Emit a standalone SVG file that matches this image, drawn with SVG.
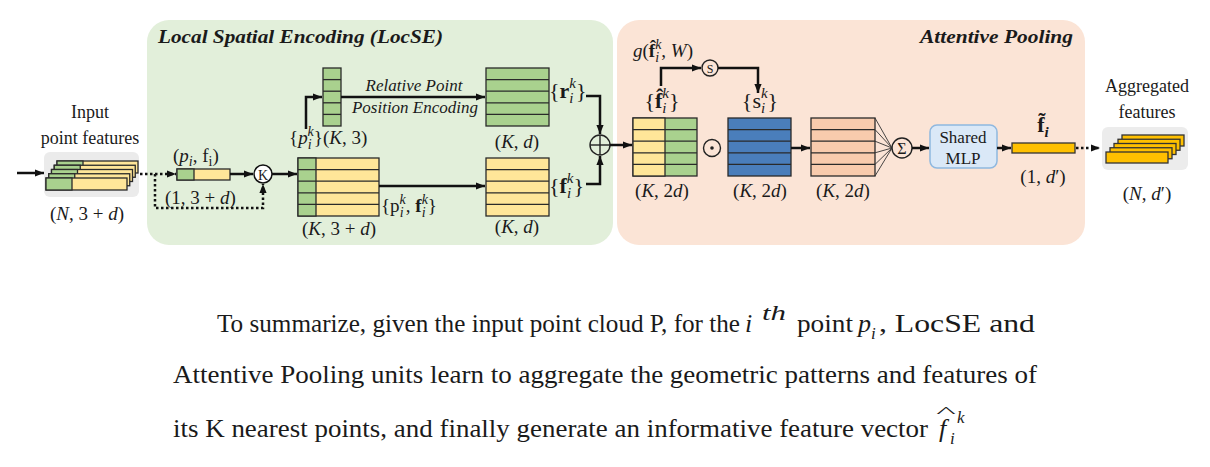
<svg xmlns="http://www.w3.org/2000/svg" width="1210" height="467" viewBox="0 0 1210 467">
<defs>
<style>
text{font-family:"Liberation Serif","Times New Roman",serif;fill:#1a1a1a}
.m{font-size:19px}
.lb{font-size:18px}
.it{font-style:italic}
.b{font-weight:bold}
.s{font-size:14px}
.ttl{font-size:19px;font-weight:bold;font-style:italic}
.body{font-size:26px}
.cell{stroke:#2a2a2a;stroke-width:1.3}
.g{fill:#a9d18e}
.y{fill:#ffe699}
.bl{fill:#4a7ebb}
.sa{fill:#f8cbad}
.gold{fill:#ffc000;stroke:#333;stroke-width:1.3}
.row{stroke:#2a2a2a;stroke-width:1.3}
.con{fill:none;stroke:#111;stroke-width:2.5}
.dot{fill:none;stroke:#111;stroke-width:2.5;stroke-dasharray:2.5 2.5}
.fan{stroke:#333;stroke-width:0.9}
.op{fill:none;stroke:#222;stroke-width:1.4}
</style>
<marker id="ah" viewBox="0 0 10 10" refX="10" refY="5" markerWidth="9" markerHeight="9" markerUnits="userSpaceOnUse" orient="auto"><path d="M0,1 L10,5 L0,9 z" fill="#111"/></marker>
</defs>
<rect width="1210" height="467" fill="#ffffff"/>

<g id="locse-panel">
<rect x="147" y="20" width="466" height="225" rx="22" fill="#e2efda"/>
<text class="ttl" x="158" y="43" textLength="285" lengthAdjust="spacingAndGlyphs">Local Spatial Encoding (LocSE)</text>
</g>
<g id="attentive-panel">
<rect x="617" y="20" width="468" height="225" rx="22" fill="#fbe4d6"/>
<text class="ttl" x="920" y="43" textLength="153" lengthAdjust="spacingAndGlyphs">Attentive Pooling</text>
</g>

<g id="input-features">
<text class="lb" x="90" y="118" text-anchor="middle">Input</text>
<text class="lb" x="90" y="144" text-anchor="middle">point features</text>
<rect x="44" y="152" width="95" height="45" rx="6" fill="#ebebeb"/>
<g class="cell">
<rect x="57" y="161" width="81" height="12" class="y"/><rect x="57" y="161" width="26" height="12" class="g"/>
<rect x="54.25" y="165.25" width="81" height="12" class="y"/><rect x="54.25" y="165.25" width="26" height="12" class="g"/>
<rect x="51.5" y="169.5" width="81" height="12" class="y"/><rect x="51.5" y="169.5" width="26" height="12" class="g"/>
<rect x="48.75" y="173.75" width="81" height="12" class="y"/><rect x="48.75" y="173.75" width="26" height="12" class="g"/>
<rect x="46" y="178" width="81" height="12" class="y"/><rect x="46" y="178" width="26" height="12" class="g"/>
</g>
<text class="m" x="87" y="220" text-anchor="middle">(<tspan class="it">N</tspan>, 3 + <tspan class="it">d</tspan>)</text>
</g>

<g id="point-pi">
<text class="m" x="173" y="162">(<tspan class="it">p</tspan><tspan class="it s" dy="4">i</tspan><tspan dy="-4">, f</tspan><tspan class="s" dy="4">i</tspan><tspan dy="-4">)</tspan></text>
<rect x="177" y="169" width="53" height="11" class="cell y"/>
<rect x="177" y="169" width="17" height="11" class="cell g"/>
<text class="m" x="165" y="204">(1, 3 + <tspan class="it">d</tspan>)</text>
</g>

<g id="knn">
<circle cx="263" cy="174" r="9" fill="#ffffff" stroke="#111" stroke-width="1.5"/>
<text x="263" y="179.5" text-anchor="middle" font-size="14">K</text>
</g>

<g id="neighbour-block">
<rect x="298" y="158" width="81" height="58" class="cell y"/>
<rect x="298" y="158" width="18" height="58" class="cell g"/>
<g class="row"><line x1="298" y1="169.6" x2="379" y2="169.6"/><line x1="298" y1="181.2" x2="379" y2="181.2"/><line x1="298" y1="192.8" x2="379" y2="192.8"/><line x1="298" y1="204.4" x2="379" y2="204.4"/></g>
<text class="m" x="339" y="235" text-anchor="middle">(<tspan class="it">K</tspan>, 3 + <tspan class="it">d</tspan>)</text>
<text class="m" x="381" y="212">{p<tspan class="it s" dy="5">i</tspan><tspan class="it s" dx="-3.9" dy="-13">k</tspan><tspan dy="8">, </tspan><tspan class="b">f</tspan><tspan class="it s" dy="5">i</tspan><tspan class="it s" dx="-3.9" dy="-13">k</tspan><tspan dy="8">}</tspan></text>
</g>

<g id="relative-pos">
<rect x="323" y="68" width="18" height="58" class="cell g"/>
<g class="row"><line x1="323" y1="79.6" x2="341" y2="79.6"/><line x1="323" y1="91.2" x2="341" y2="91.2"/><line x1="323" y1="102.8" x2="341" y2="102.8"/><line x1="323" y1="114.4" x2="341" y2="114.4"/></g>
<text class="m" x="289" y="144">{<tspan class="it">p</tspan><tspan class="it s" dy="5">i</tspan><tspan class="it s" dx="-3.9" dy="-13">k</tspan><tspan dy="8">}(</tspan><tspan class="it">K</tspan>, 3)</text>
</g>

<g id="encoding-label">
<text class="it" font-size="17" x="414" y="91" text-anchor="middle">Relative Point</text>
<text class="it" font-size="17" x="415" y="113" text-anchor="middle">Position Encoding</text>
</g>

<g id="r-block">
<rect x="486" y="68" width="63" height="58" class="cell g"/>
<g class="row"><line x1="486" y1="79.6" x2="549" y2="79.6"/><line x1="486" y1="91.2" x2="549" y2="91.2"/><line x1="486" y1="102.8" x2="549" y2="102.8"/><line x1="486" y1="114.4" x2="549" y2="114.4"/></g>
<text font-size="22" x="549" y="98">{<tspan class="b">r</tspan><tspan class="it" font-size="15" dy="5">i</tspan><tspan class="it" font-size="15" dx="-4.2" dy="-15">k</tspan><tspan dy="10">}</tspan></text>
<text class="m" x="517" y="148" text-anchor="middle">(<tspan class="it">K</tspan>, <tspan class="it">d</tspan>)</text>
</g>

<g id="f-block">
<rect x="486" y="158" width="63" height="58" class="cell y"/>
<g class="row"><line x1="486" y1="169.6" x2="549" y2="169.6"/><line x1="486" y1="181.2" x2="549" y2="181.2"/><line x1="486" y1="192.8" x2="549" y2="192.8"/><line x1="486" y1="204.4" x2="549" y2="204.4"/></g>
<text font-size="22" x="549" y="193">{<tspan class="b">f</tspan><tspan class="it" font-size="15" dy="5">i</tspan><tspan class="it" font-size="15" dx="-4.2" dy="-15">k</tspan><tspan dy="10">}</tspan></text>
<text class="m" x="517" y="233" text-anchor="middle">(<tspan class="it">K</tspan>, <tspan class="it">d</tspan>)</text>
</g>

<g id="concat">
<circle cx="600" cy="145" r="10" class="op" fill="#ffffff"/>
<line x1="590" y1="145" x2="610" y2="145" class="op"/>
<line x1="600" y1="135" x2="600" y2="155" class="op"/>
</g>

<g id="fhat-block">
<rect x="633" y="118" width="64" height="58" class="cell g"/>
<rect x="633" y="118" width="32" height="58" class="cell y"/>
<g class="row"><line x1="633" y1="129.6" x2="697" y2="129.6"/><line x1="633" y1="141.2" x2="697" y2="141.2"/><line x1="633" y1="152.8" x2="697" y2="152.8"/><line x1="633" y1="164.4" x2="697" y2="164.4"/></g>
<text font-size="22" x="662" y="108" text-anchor="middle">{<tspan class="b">f̂</tspan><tspan class="it" font-size="15" dy="5">i</tspan><tspan class="it" font-size="15" dx="-4.2" dy="-15">k</tspan><tspan dy="10">}</tspan></text>
<text class="m" x="662" y="197" text-anchor="middle">(<tspan class="it">K</tspan>, 2<tspan class="it">d</tspan>)</text>
<text class="m" x="633" y="57"><tspan class="it">g</tspan>(<tspan class="b">f̂</tspan><tspan class="it s" dy="5">i</tspan><tspan class="it s" dx="-3.9" dy="-13">k</tspan><tspan dy="8">, </tspan><tspan class="it">W</tspan>)</text>
</g>

<g id="score-fn">
<circle cx="710" cy="68" r="8" fill="#fbe4d6" stroke="#222" stroke-width="1.4"/>
<text x="710" y="72.5" text-anchor="middle" font-size="12">S</text>
</g>

<g id="mult">
<circle cx="712" cy="148" r="8.5" class="op"/>
<circle cx="712" cy="148" r="1.8" fill="#222"/>
</g>

<g id="score-block">
<rect x="728" y="118" width="63" height="58" class="cell bl"/>
<g class="row"><line x1="728" y1="129.6" x2="791" y2="129.6"/><line x1="728" y1="141.2" x2="791" y2="141.2"/><line x1="728" y1="152.8" x2="791" y2="152.8"/><line x1="728" y1="164.4" x2="791" y2="164.4"/></g>
<text font-size="22" x="760" y="108" text-anchor="middle">{s<tspan class="it" font-size="15" dy="5">i</tspan><tspan class="it" font-size="15" dx="-4.2" dy="-15">k</tspan><tspan dy="10">}</tspan></text>
<text class="m" x="760" y="197" text-anchor="middle">(<tspan class="it">K</tspan>, 2<tspan class="it">d</tspan>)</text>
</g>

<g id="weighted-block">
<rect x="811" y="118" width="64" height="58" class="cell sa"/>
<g class="row"><line x1="811" y1="129.6" x2="875" y2="129.6"/><line x1="811" y1="141.2" x2="875" y2="141.2"/><line x1="811" y1="152.8" x2="875" y2="152.8"/><line x1="811" y1="164.4" x2="875" y2="164.4"/></g>
<text class="m" x="843" y="197" text-anchor="middle">(<tspan class="it">K</tspan>, 2<tspan class="it">d</tspan>)</text>
</g>

<g id="sum">
<circle cx="902" cy="148" r="10" class="op" fill="#fbe4d6"/>
<text x="902" y="154" text-anchor="middle" font-size="16">Σ</text>
</g>

<g id="shared-mlp">
<rect x="930" y="125" width="67" height="43" rx="7" fill="#dae8f7" stroke="#8fb8df" stroke-width="1.5"/>
<text font-size="17" x="963" y="143" text-anchor="middle">Shared</text>
<text font-size="17" x="963" y="164" text-anchor="middle">MLP</text>
</g>

<g id="f-tilde">
<rect x="1012" y="143" width="63" height="10" class="gold"/>
<text font-size="22" x="1043" y="132" text-anchor="middle"><tspan class="b">f̃</tspan><tspan class="b it" font-size="15" dy="5">i</tspan></text>
<text class="m" x="1043" y="183" text-anchor="middle">(1, <tspan class="it">d</tspan>′)</text>
</g>

<g id="aggregated">
<text class="lb" x="1147" y="92" text-anchor="middle">Aggregated</text>
<text class="lb" x="1147" y="118" text-anchor="middle">features</text>
<rect x="1102" y="127" width="86" height="43" rx="6" fill="#ececec"/>
<rect x="1122" y="135" width="62" height="11" class="gold"/>
<rect x="1118" y="139.25" width="62" height="11" class="gold"/>
<rect x="1114" y="143.5" width="62" height="11" class="gold"/>
<rect x="1110" y="147.75" width="62" height="11" class="gold"/>
<rect x="1106" y="152" width="62" height="11" class="gold"/>
<text class="m" x="1147" y="200" text-anchor="middle">(<tspan class="it">N</tspan>, <tspan class="it">d</tspan>′)</text>
</g>

<g id="connectors">
<line x1="17" y1="173" x2="44" y2="173" class="con" marker-end="url(#ah)"/>
<line x1="140" y1="174" x2="176" y2="174" class="dot" marker-end="url(#ah)"/>
<path d="M155,174 V208 H263 V184" class="dot" marker-end="url(#ah)"/>
<line x1="230" y1="174" x2="253" y2="174" class="con" marker-end="url(#ah)"/>
<line x1="272" y1="174" x2="297" y2="174" class="con" marker-end="url(#ah)"/>
<path d="M306,129 V97 H322" class="con" marker-end="url(#ah)"/>
<line x1="341" y1="97" x2="485" y2="97" class="con" marker-end="url(#ah)"/>
<line x1="379" y1="186" x2="485" y2="186" class="con" marker-end="url(#ah)"/>
<path d="M586,96 H600 V134" class="con" marker-end="url(#ah)"/>
<path d="M586,184 H600 V156" class="con" marker-end="url(#ah)"/>
<line x1="610" y1="145" x2="632" y2="145" class="con" marker-end="url(#ah)"/>
<path d="M661,86 V68 H701" class="con" marker-end="url(#ah)"/>
<path d="M718,68 H758 V93" class="con" marker-end="url(#ah)"/>
<line x1="791" y1="148" x2="810" y2="148" class="con" marker-end="url(#ah)"/>
<g class="fan">
<line x1="875" y1="118" x2="892" y2="148"/><line x1="875" y1="129.6" x2="892" y2="148"/><line x1="875" y1="141.2" x2="892" y2="148"/><line x1="875" y1="152.8" x2="892" y2="148"/><line x1="875" y1="164.4" x2="892" y2="148"/><line x1="875" y1="176" x2="892" y2="148"/>
</g>
<line x1="912" y1="148" x2="929" y2="148" class="con" marker-end="url(#ah)"/>
<line x1="997" y1="148" x2="1011" y2="148" class="con" marker-end="url(#ah)"/>
<line x1="1076" y1="148" x2="1100" y2="148" class="dot" marker-end="url(#ah)"/>
</g>

<g id="summary-text">
<text class="body" x="217" y="332" textLength="523" lengthAdjust="spacingAndGlyphs">To summarize, given  the input point cloud P, for the</text>
<text class="body it" x="745" y="332">i</text>
<text class="it" font-size="20" x="762" y="320" textLength="24" lengthAdjust="spacingAndGlyphs">th</text>
<text class="body" x="797" y="332" textLength="56" lengthAdjust="spacingAndGlyphs">point</text>
<text class="body it" x="858" y="332">p</text>
<text class="it" font-size="17" x="871" y="339">i</text>
<text class="body" x="879" y="332" textLength="156" lengthAdjust="spacingAndGlyphs">, LocSE and</text>
<text class="body" x="173" y="383" textLength="864" lengthAdjust="spacingAndGlyphs">Attentive Pooling units learn to aggregate  the geometric patterns and features of</text>
<text class="body" x="173" y="437" textLength="755" lengthAdjust="spacingAndGlyphs">its K nearest points, and finally generate an informative feature vector</text>
<text class="body it" x="939" y="437">f</text>
<text class="it" font-size="17" x="950" y="444">i</text>
<text class="it" font-size="17" x="957" y="423">k</text>
<text font-size="16" transform="translate(946,417) scale(2.6,0.9)" text-anchor="middle">^</text>
</g>
</svg>
